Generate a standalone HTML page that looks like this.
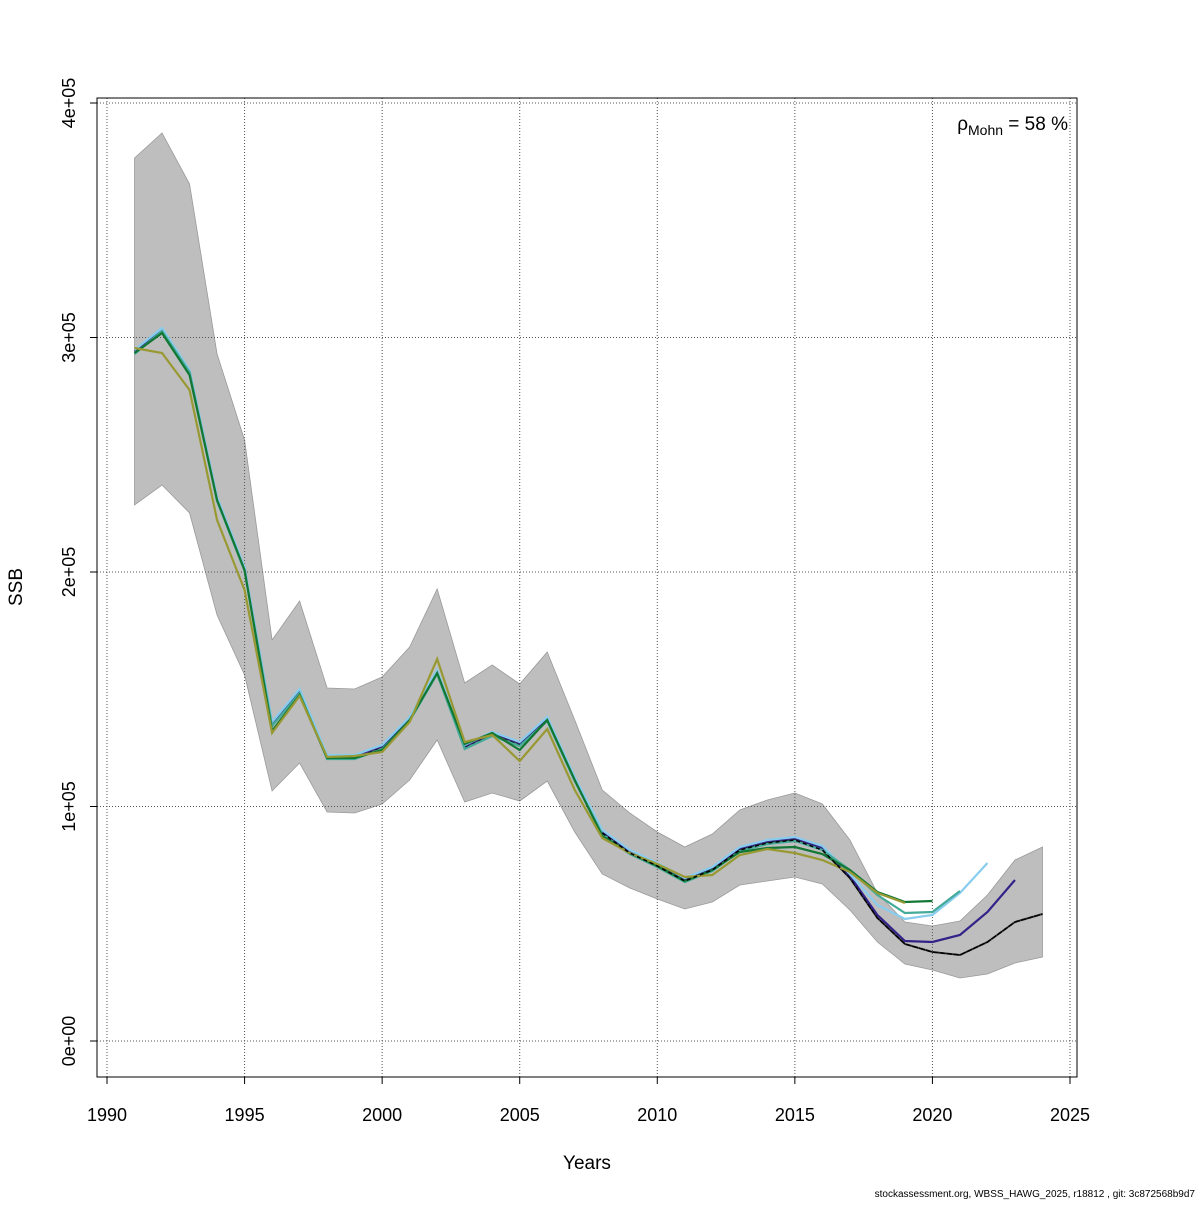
<!DOCTYPE html>
<html><head><meta charset="utf-8"><style>
body{margin:0;background:#fff}
svg text{font-family:"Liberation Sans",sans-serif}
</style></head><body>
<svg id="s" width="1200" height="1200" xmlns="http://www.w3.org/2000/svg"></svg>
<script>
const S=document.getElementById('s');
const X=y=>107+(y-1990)*963/35;
const yrs=[];for(let y=1991;y<=2024;y++)yrs.push(y);
const up=[158,133,184,354,440,640,601,688,689,677,647,589,683,665,684,652,720,790,813,832,847,834,810,800,793,804,840,893,922,926,921,895,860,847];
const lo=[505,485,513,615,675,791,763,812,813,804,780,740,802,793,801,781,832,874,888,899,909,902,885,881,877,884,910,942,964,970,978,974,963,957];
const m=[353,333,373,500,570,725,692,758,758,748,720,673,748,735,745,720,780,833,853,866,881,870,850,843,840,850,878,918,944,952,955,942,922,914];
let h='';
let pts=yrs.map((y,i)=>X(y)+','+up[i]).join(' ')+' '+yrs.slice().reverse().map((y,i)=>X(y)+','+lo[33-i]).join(' ');
h+=`<polygon points="${pts}" fill="#bebebe" stroke="#9a9a9a" stroke-width="0.8"/>`;
for(let y=1990;y<=2025;y+=5)h+=`<line x1="${X(y)}" y1="98" x2="${X(y)}" y2="1077" stroke="#555" stroke-dasharray="1,2"/>`;
for(let k=0;k<=4;k++){const yy=1041-k*234.5;h+=`<line x1="97" y1="${yy}" x2="1077" y2="${yy}" stroke="#555" stroke-dasharray="1,2"/>`;}
function line(vals,col,n){const p=vals.slice(0,n).map((v,i)=>X(1991+i)+','+v).join(' ');h+=`<polyline points="${p}" fill="none" stroke="${col}" stroke-width="2.2"/>`;}
function mod(n,over,offs){const v=m.slice(0,n).map((x,i)=>x+(offs?offs(i):0));for(const k in over)v[k-1991]=over[k];return v;}
let mp=m.map((v,i)=>X(1991+i)+','+v).join(' ');
h+=`<polyline points="${mp}" fill="none" stroke="#555" stroke-width="2"/><polyline points="${mp}" fill="none" stroke="#000" stroke-width="1.5" stroke-dasharray="4,3"/>`;
line(mod(33,{2018:915,2019:941,2020:942,2021:935,2022:912,2023:880},i=>i<27?-2:0),'#332288',33);
line(mod(32,{1992:328,1993:370,2015:837,2016:846,2017:874,2018:905,2019:919,2020:915,2021:893,2022:863},i=>i<27?-3:0),'#88ccee',32);
line(mod(31,{1992:331,1993:372,2016:850,2017:870,2018:895,2019:913,2020:912,2021:891},i=>i<27?1:0),'#44aa99',31);
line(mod(30,{1992:333,1993:375,1996:731,1997:695,2000:750,2003:744,2004:733,2005:750,2008:836,2013:852,2014:848,2015:847,2016:854,2017:870,2018:892,2019:902,2020:901}),'#117733',30);
line(mod(29,{1991:348,1992:353,1993:390,1994:520,1995:590,1996:733,1997:696,1998:757,1999:756,2000:752,2001:722,2002:659,2003:742,2004:735,2005:761,2006:729,2007:790,2008:838,2010:864,2011:877,2012:875,2013:855,2014:849,2015:853,2016:860,2017:872,2018:893,2019:903}),'#999933',29);
h+=`<polyline points="${m.slice(17).map((v,i)=>X(2008+i)+','+v).join(' ')}" fill="none" stroke="#000" stroke-width="1.5" stroke-dasharray="4,3"/>`;
h+=`<rect x="97" y="98" width="980" height="979" fill="none" stroke="#000"/>`;
h+=`<line x1="${X(1990)}" y1="1077" x2="${X(2025)}" y2="1077" stroke="#000"/>`;
for(let y=1990;y<=2025;y+=5){h+=`<line x1="${X(y)}" y1="1077" x2="${X(y)}" y2="1084" stroke="#000"/><text x="${X(y)}" y="1121" font-size="18" text-anchor="middle">${y}</text>`;}
const lb=['0e+00','1e+05','2e+05','3e+05','4e+05'];
for(let k=0;k<=4;k++){const yy=1041-k*234.5;h+=`<line x1="90" y1="${yy}" x2="97" y2="${yy}" stroke="#000"/><text transform="translate(75,${yy}) rotate(-90)" font-size="18" text-anchor="middle">${lb[k]}</text>`;}
h+=`<text x="587" y="1169" font-size="19" text-anchor="middle">Years</text>`;
h+=`<text transform="translate(22,587) rotate(-90)" font-size="19" text-anchor="middle">SSB</text>`;
h+=`<text x="1068" y="130" font-size="19" text-anchor="end">ρ<tspan font-size="14" dy="5">Mohn</tspan><tspan dy="-5"> = 58 %</tspan></text>`;
h+=`<text x="1195" y="1197" font-size="10" text-anchor="end">stockassessment.org, WBSS_HAWG_2025, r18812 , git: 3c872568b9d7</text>`;
S.innerHTML=h;
</script>
</body></html>
